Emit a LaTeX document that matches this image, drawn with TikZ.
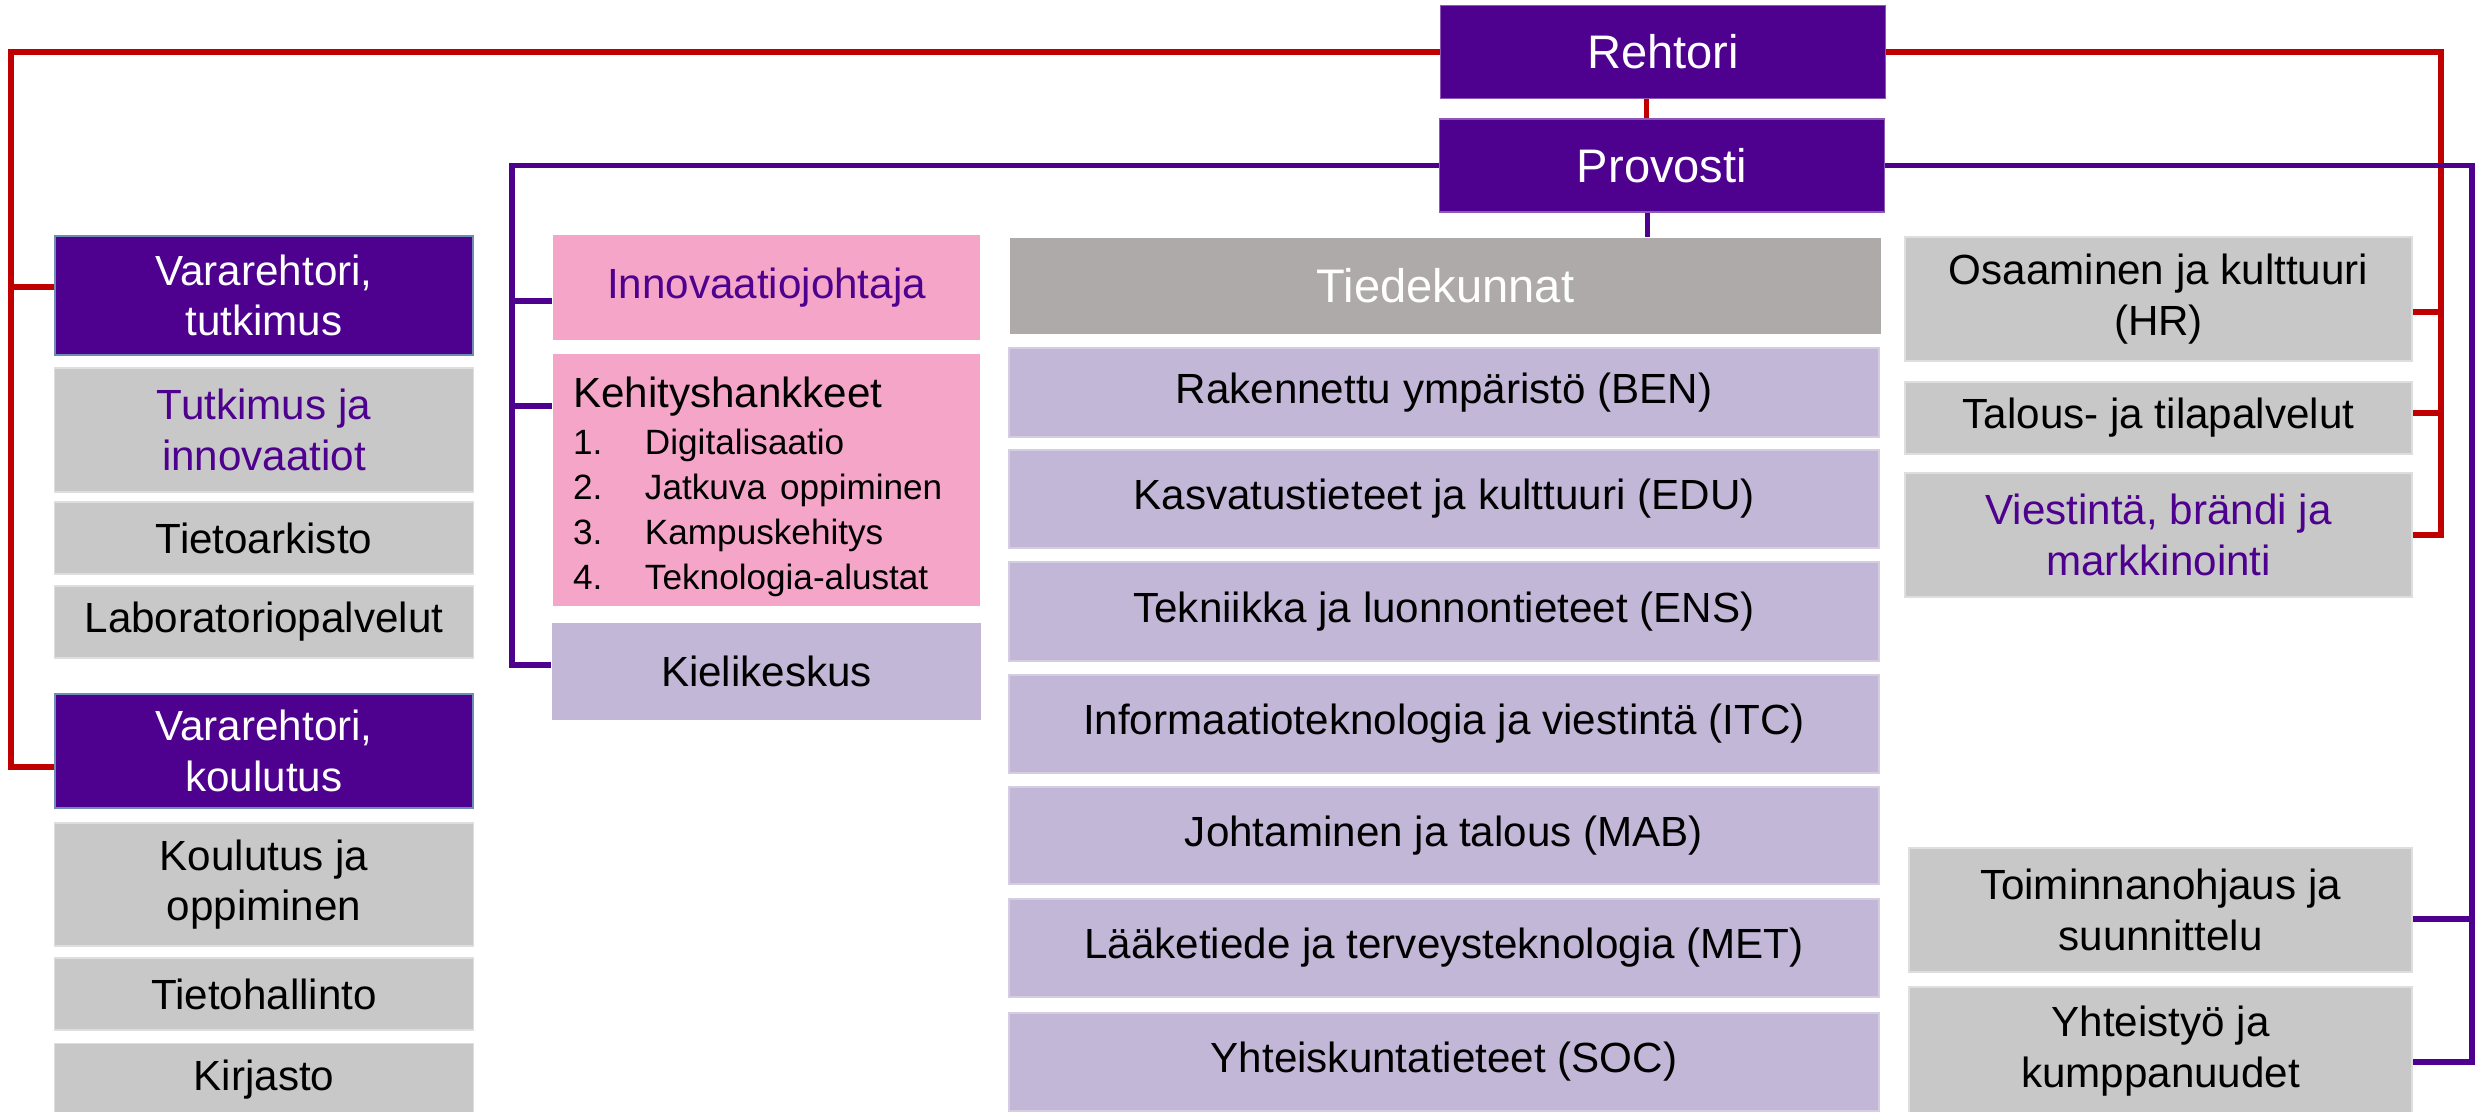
\documentclass[tikz,border=0pt]{standalone}
\usepackage{fontspec}
\setmainfont{Liberation Sans}
\usetikzlibrary{calc}

\definecolor{uniPurple}{RGB}{78,0,142}
\definecolor{uniRed}{RGB}{192,0,0}
\definecolor{boxGray}{RGB}{200,200,200}
\definecolor{facGray}{RGB}{174,170,170}
\definecolor{boxPink}{RGB}{244,165,200}
\definecolor{boxLilac}{RGB}{195,183,215}
\definecolor{edgeBlue}{RGB}{110,140,180}

\tikzset{
  box/.style={rectangle, inner sep=0pt, align=center, font=\fontsize{12}{14.3}\selectfont},
  head/.style={box, fill=uniPurple, draw=uniPurple!65, line width=0.5pt, text=white,
    minimum width=4.45cm, minimum height=0.93cm, font=\fontsize{13.4}{16}\selectfont},
  vice/.style={box, fill=uniPurple, draw=edgeBlue, line width=0.6pt, text=white, minimum width=4.18cm},
  unit/.style={box, fill=boxGray, draw=boxGray!60, line width=0.4pt},
  faculty/.style={box, fill=boxLilac, draw=boxLilac!70, line width=0.4pt, minimum width=8.70cm},
  redline/.style={uniRed, line width=1.6pt},
  purpleline/.style={uniPurple, line width=1.5pt},
}
\newcommand{\listitem}[1]{\makebox[0.72cm][l]{#1}}

\begin{document}
\begin{tikzpicture}
	\useasboundingbox (0,0) rectangle (24.75,-11.12);
	% top
	\node[head] (rehtori) at (16.63, -0.52) {Rehtori};
	\node[head] (provosti) at (16.62, -1.655) {Provosti};
	% left column
	\node[vice, minimum height=1.19cm] (vtutk) at (2.64, -2.955) {Vararehtori,\\tutkimus};
	\node[unit, minimum width=4.19cm, minimum height=1.24cm, text=uniPurple] (tutinno) at (2.64, -4.30) {Tutkimus ja\\innovaatiot};
	\node[unit, minimum width=4.19cm, minimum height=0.72cm] (arkisto) at (2.64, -5.38) {Tietoarkisto};
	\node[unit, minimum width=4.19cm, minimum height=0.72cm] (labra) at (2.64, -6.22) {Laboratoriopalvelut};
	\node[vice, minimum height=1.14cm] (vkoul) at (2.64, -7.51) {Vararehtori,\\koulutus};
	\node[unit, minimum width=4.19cm, minimum height=1.23cm] (koulop) at (2.64, -8.845) {Koulutus ja\\oppiminen};
	\node[unit, minimum width=4.19cm, minimum height=0.72cm] (tietoh) at (2.64, -9.94) {Tietohallinto};
	\node[unit, minimum width=4.19cm, minimum height=0.73cm] (kirjasto) at (2.64, -10.80) {Kirjasto};
	% middle column
	\node[box, fill=boxPink, minimum width=4.27cm, minimum height=1.05cm, text=uniPurple] (innojoht) at (7.665, -2.875) {Innovaatiojohtaja};
	\node[box, fill=boxPink, minimum width=4.27cm, minimum height=2.52cm, text width=3.87cm, align=left,
		font=\fontsize{12}{12.8}\selectfont] (kehitys) at (7.665, -4.80)
		{\rule{0pt}{12.8pt}Kehityshankkeet\\[0.6pt] \fontsize{10}{12.8}\selectfont
		\listitem{1.}Digitalisaatio\\
		\listitem{2.}Jatkuva oppiminen\\
		\listitem{3.}Kampuskehitys\\
		\listitem{4.}Teknologia-alustat};
	\node[box, fill=boxLilac, minimum width=4.29cm, minimum height=0.97cm] (kieli) at (7.665, -6.715) {Kielikeskus};
	% faculties
	\node[box, fill=facGray, text=white, minimum width=8.71cm, minimum height=0.96cm,
		font=\fontsize{13.4}{16}\selectfont] (tdk) at (14.455, -2.86) {Tiedekunnat};
	\node[faculty, minimum height=0.89cm] (ben) at (14.44, -3.925) {Rakennettu ympäristö (BEN)};
	\node[faculty, minimum height=0.98cm] (edu) at (14.44, -4.99) {Kasvatustieteet ja kulttuuri (EDU)};
	\node[faculty, minimum height=0.99cm] (ens) at (14.44, -6.115) {Tekniikka ja luonnontieteet (ENS)};
	\node[faculty, minimum height=0.98cm] (itc) at (14.44, -7.24) {Informaatioteknologia ja viestintä (ITC)};
	\node[faculty, minimum height=0.97cm] (mab) at (14.44, -8.355) {Johtaminen ja talous (MAB)};
	\node[faculty, minimum height=0.98cm] (met) at (14.44, -9.48) {Lääketiede ja terveysteknologia (MET)};
	\node[faculty, minimum height=0.98cm] (soc) at (14.44, -10.62) {Yhteiskuntatieteet (SOC)};
	% right column
	\node[unit, minimum width=5.07cm, minimum height=1.24cm] (hr) at (21.585, -2.99) {Osaaminen ja kulttuuri\\(HR)};
	\node[unit, minimum width=5.07cm, minimum height=0.72cm] (talous) at (21.585, -4.18) {Talous- ja tilapalvelut};
	\node[unit, minimum width=5.07cm, minimum height=1.24cm, text=uniPurple] (viest) at (21.585, -5.35) {Viestintä, brändi ja\\markkinointi};
	\node[unit, minimum width=5.03cm, minimum height=1.24cm] (toim) at (21.605, -9.10) {Toiminnanohjaus ja\\suunnittelu};
	\node[unit, minimum width=5.03cm, minimum height=1.28cm] (yhteis) at (21.605, -10.51) {Yhteistyö ja\\kumppanuudet};

	% rails and branch points
	\coordinate (lred) at (0.11, 0);
	\coordinate (rred) at (24.41, 0);
	\coordinate (lpur) at (5.12, 0);
	\coordinate (rpur) at (24.72, 0);
	\coordinate (vtutkIn) at ([yshift=0.85mm]vtutk.west);
	\coordinate (vkoulIn) at ([yshift=-1.6mm]vkoul.west);
	\coordinate (hrIn) at ([yshift=-1.3mm]hr.east);
	\coordinate (talousIn) at ([yshift=0.5mm]talous.east);
	\coordinate (innoIn) at ([yshift=-1.35mm]innojoht.west);
	\coordinate (kehIn) at ([yshift=7.4mm]kehitys.west);
	\coordinate (kieliIn) at ([yshift=0.65mm]kieli.west);
	\coordinate (toimIn) at ([yshift=-0.9mm]toim.east);
	\coordinate (yhtIn) at ([yshift=-1.1mm]yhteis.east);
	\coordinate (rehtDown) at ([xshift=-1.65mm]rehtori.south);
	\coordinate (provDown) at ([xshift=-1.45mm]provosti.south);

	% rector lines
	\draw[redline] (rehtori.west) -| (lred |- vkoulIn) -- (vkoulIn);
	\draw[redline] (lred |- vtutkIn) -- (vtutkIn);
	\draw[redline] (rehtori.east) -| (rred |- viest.east) -- (viest.east);
	\draw[redline] (rred |- hrIn) -- (hrIn);
	\draw[redline] (rred |- talousIn) -- (talousIn);
	\draw[redline] (rehtDown) -- (rehtDown |- provosti.north);
	% provost lines
	\draw[purpleline] (provosti.west) -| (lpur |- kieliIn) -- (kieliIn);
	\draw[purpleline] (lpur |- innoIn) -- (innoIn);
	\draw[purpleline] (lpur |- kehIn) -- (kehIn);
	\draw[purpleline] (provosti.east) -| (rpur |- yhtIn) -- (yhtIn);
	\draw[purpleline] (rpur |- toimIn) -- (toimIn);
	\draw[purpleline] (provDown) -- (provDown |- tdk.north);
\end{tikzpicture}
\end{document}
